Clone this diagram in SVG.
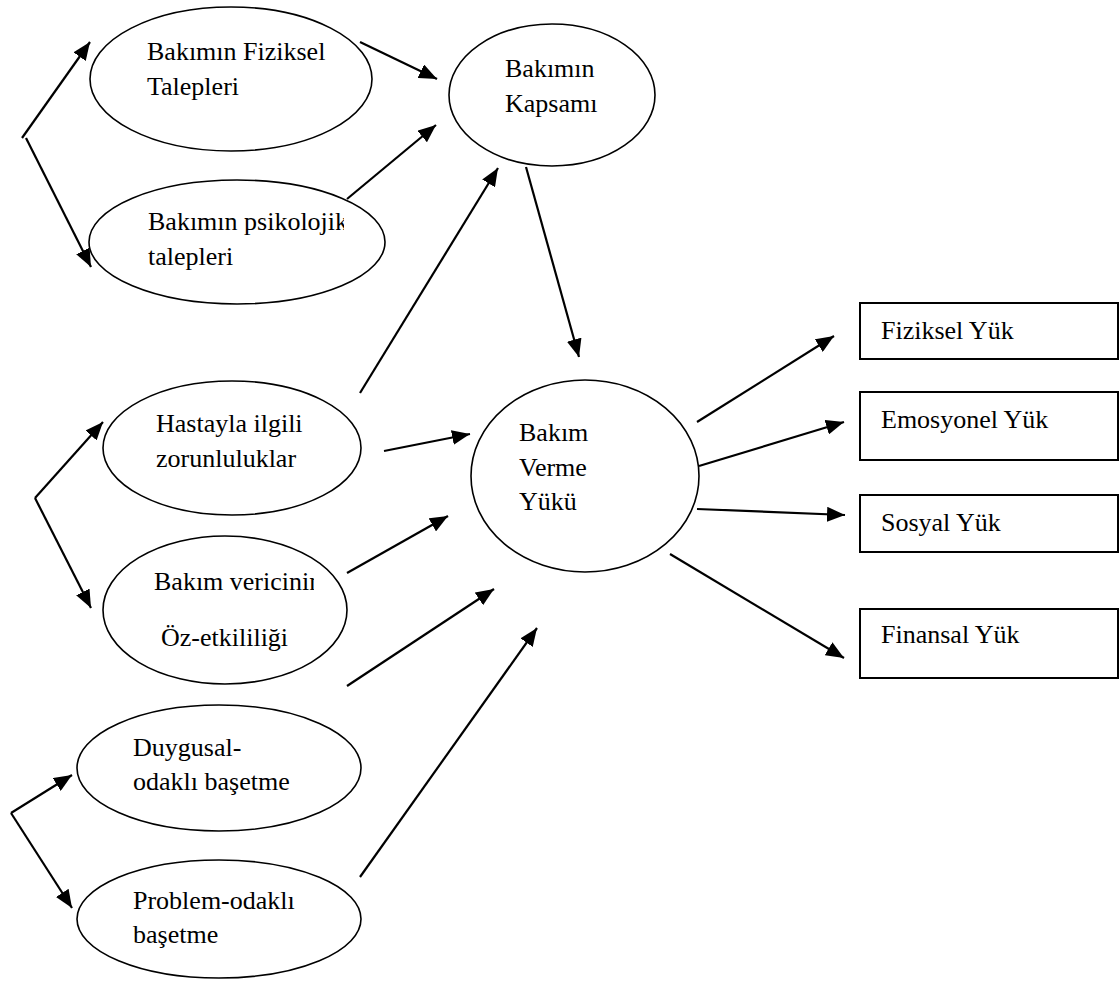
<svg xmlns="http://www.w3.org/2000/svg" width="1120" height="981" viewBox="0 0 1120 981">
<style>
.n{fill:#fff;stroke:#000;stroke-width:1.6}
.r{fill:#fff;stroke:#000;stroke-width:2}
.t{font-family:"Liberation Serif","Times New Roman",serif;font-size:26px;fill:#000}
.c line{stroke:#000;stroke-width:2.2;fill:none}
</style>
<defs>
<marker id="ah" markerUnits="userSpaceOnUse" markerWidth="19" markerHeight="15" refX="18" refY="7.5" orient="auto">
<path d="M0,0 L18,7.5 L0,15 z" fill="#000"/>
</marker>
<clipPath id="clipPsi"><rect x="0" y="200" width="344" height="80"/></clipPath>
<clipPath id="clipVer"><rect x="0" y="560" width="314" height="40"/></clipPath>
</defs>
<rect width="1120" height="981" fill="#fff"/>

<g id="n-fiziksel-talepler">
<ellipse class="n" cx="231" cy="79" rx="141" ry="72"/>
<text class="t" x="147" y="60">Bakımın Fiziksel</text>
<text class="t" x="147" y="95">Talepleri</text>
</g>
<g id="n-psikolojik-talepler">
<ellipse class="n" cx="237" cy="242" rx="148" ry="62"/>
<text class="t" x="148" y="230" clip-path="url(#clipPsi)">Bakımın psikolojik</text>
<text class="t" x="148" y="265">talepleri</text>
</g>
<g id="n-kapsam">
<ellipse class="n" cx="552" cy="95" rx="103" ry="71"/>
<text class="t" x="505" y="77">Bakımın</text>
<text class="t" x="505" y="112">Kapsamı</text>
</g>
<g id="n-hastayla">
<ellipse class="n" cx="232" cy="448" rx="129" ry="67"/>
<text class="t" x="156" y="432">Hastayla ilgili</text>
<text class="t" x="156" y="467">zorunluluklar</text>
</g>
<g id="n-oz-etkililik">
<ellipse class="n" cx="225" cy="610" rx="122" ry="74"/>
<text class="t" x="154" y="590" clip-path="url(#clipVer)">Bakım vericinin</text>
<text class="t" x="161" y="646">Öz-etkililiği</text>
</g>
<g id="n-duygusal">
<ellipse class="n" cx="219" cy="768" rx="142" ry="63"/>
<text class="t" x="133" y="756">Duygusal-</text>
<text class="t" x="133" y="790">odaklı başetme</text>
</g>
<g id="n-problem">
<ellipse class="n" cx="219" cy="919" rx="142" ry="59"/>
<text class="t" x="133" y="909">Problem-odaklı</text>
<text class="t" x="133" y="943">başetme</text>
</g>
<g id="n-bakim-yuku">
<ellipse class="n" cx="585" cy="476" rx="114" ry="96"/>
<text class="t" x="519" y="441">Bakım</text>
<text class="t" x="519" y="476">Verme</text>
<text class="t" x="519" y="510">Yükü</text>
</g>
<g id="n-fiziksel-yuk">
<rect class="r" x="860" y="303" width="258" height="56"/>
<text class="t" x="881" y="339">Fiziksel Yük</text>
</g>
<g id="n-emosyonel-yuk">
<rect class="r" x="860" y="392" width="258" height="68"/>
<text class="t" x="881" y="428">Emosyonel Yük</text>
</g>
<g id="n-sosyal-yuk">
<rect class="r" x="860" y="495" width="258" height="57"/>
<text class="t" x="881" y="531">Sosyal Yük</text>
</g>
<g id="n-finansal-yuk">
<rect class="r" x="860" y="609" width="258" height="69"/>
<text class="t" x="881" y="643">Finansal Yük</text>
</g>

<g id="connectors" class="c">
<line x1="22" y1="138" x2="90" y2="42" marker-end="url(#ah)"/>
<line x1="26" y1="138" x2="91" y2="267" marker-end="url(#ah)"/>
<line x1="35" y1="498" x2="103" y2="422" marker-end="url(#ah)"/>
<line x1="35" y1="498" x2="91" y2="608" marker-end="url(#ah)"/>
<line x1="11" y1="813" x2="72" y2="775" marker-end="url(#ah)"/>
<line x1="11" y1="813" x2="72" y2="908" marker-end="url(#ah)"/>
<line x1="360" y1="42" x2="437" y2="79" marker-end="url(#ah)"/>
<line x1="347" y1="199" x2="436" y2="125" marker-end="url(#ah)"/>
<line x1="360" y1="393" x2="498" y2="168" marker-end="url(#ah)"/>
<line x1="526" y1="167" x2="579" y2="357" marker-end="url(#ah)"/>
<line x1="384" y1="451" x2="470" y2="434" marker-end="url(#ah)"/>
<line x1="347" y1="573" x2="448" y2="516" marker-end="url(#ah)"/>
<line x1="347" y1="686" x2="494" y2="589" marker-end="url(#ah)"/>
<line x1="360" y1="877" x2="537" y2="628" marker-end="url(#ah)"/>
<line x1="697" y1="422" x2="834" y2="336" marker-end="url(#ah)"/>
<line x1="699" y1="466" x2="844" y2="422" marker-end="url(#ah)"/>
<line x1="697" y1="509" x2="845" y2="515" marker-end="url(#ah)"/>
<line x1="670" y1="554" x2="844" y2="658" marker-end="url(#ah)"/>
</g>
</svg>
